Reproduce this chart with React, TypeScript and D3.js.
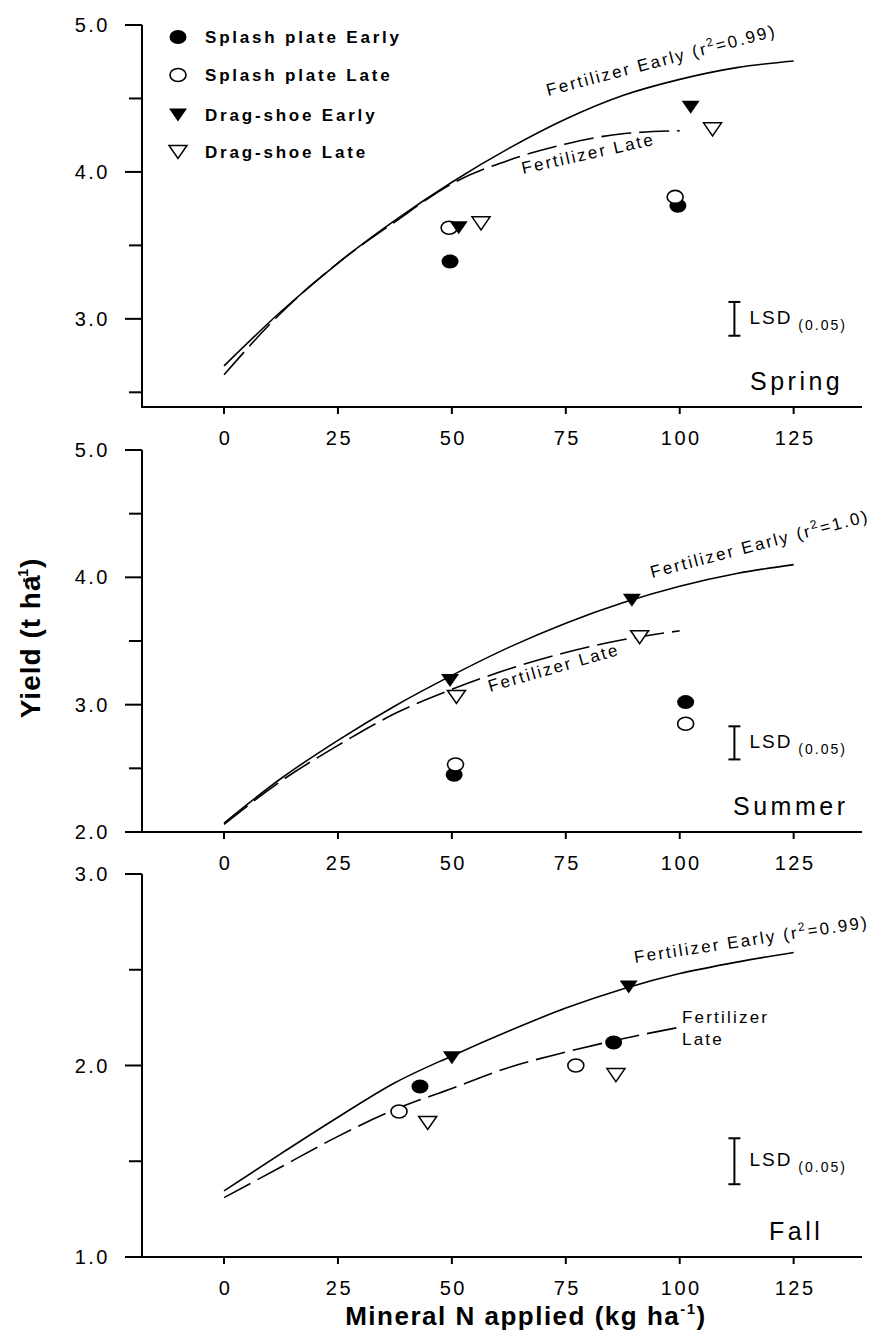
import React from "react";
import * as d3 from "d3";

const width = 880;
const height = 1331;

const seasons = ["Spring", "Summer", "Fall"];
const xTicks = [0, 25, 50, 75, 100, 125];
const yMajorTicks = [[3, 4, 5], [2, 3, 4, 5], [1, 2, 3]];
const yMinorTicks = [[2.5, 3.5, 4.5], [2.5, 3.5, 4.5], [1.5, 2.5]];
const yDomains = [[2.4, 5], [2, 5], [1, 3]];

// fitted fertilizer response curves
const earlyRates = [0, 12.5, 25, 37.5, 50, 62.5, 75, 87.5, 100, 112.5, 125];
const lateRates = [0, 12.5, 25, 37.5, 50, 62.5, 75, 87.5, 100];
const fertEarly = [
  [2.68, 3.05, 3.38, 3.67, 3.93, 4.16, 4.36, 4.52, 4.63, 4.71, 4.755],
  [2.07, 2.42, 2.72, 2.99, 3.23, 3.45, 3.64, 3.8, 3.93, 4.03, 4.1],
  [1.345, 1.54, 1.73, 1.91, 2.05, 2.18, 2.3, 2.4, 2.48, 2.54, 2.59],
];
const fertLate = [
  [2.62, 3.04, 3.38, 3.66, 3.92, 4.08, 4.19, 4.26, 4.28],
  [2.06, 2.4, 2.68, 2.93, 3.12, 3.28, 3.41, 3.51, 3.58],
  [1.31, 1.47, 1.63, 1.77, 1.88, 1.99, 2.07, 2.14, 2.2],
];

// manure treatments [N applied, yield]
const splashEarly = [
  [[49.6, 3.39], [99.6, 3.77]],
  [[50.5, 2.45], [101.3, 3.02]],
  [[43, 1.89], [85.5, 2.12]],
];
const splashLate = [
  [[49.4, 3.62], [99, 3.83]],
  [[50.8, 2.53], [101.3, 2.85]],
  [[38.4, 1.76], [77.2, 2.0]],
];
const dragEarly = [
  [[51.5, 3.62], [102.4, 4.44]],
  [[49.6, 3.19], [89.5, 3.82]],
  [[50, 2.04], [88.8, 2.41]],
];
const dragLate = [
  [[56.4, 3.65], [107.2, 4.29]],
  [[51, 3.06], [91.2, 3.53]],
  [[44.7, 1.7], [86, 1.95]],
];

const lsdCenter = [3.0, 2.7, 1.5];
const lsdHalf = [0.115, 0.13, 0.12];
const lsdRate = 112;

const r2Labels = ["0.99", "1.0", "0.99"];
const legendItems = ["Splash plate Early", "Splash plate Late", "Drag-shoe Early", "Drag-shoe Late"];

const font = "'Liberation Sans', Arial, Helvetica, sans-serif";

const panelRanges = [[407, 25], [832, 450], [1257, 874]];
// annotation layout per panel
const earlyLabelPos = [
  { x: 548, y: 96, a: -14.7 },
  { x: 652, y: 578, a: -14.6 },
  { x: 635, y: 963, a: -8.6 },
];
const lateLabelPos = [
  { x: 523, y: 174, a: -12.5 },
  { x: 490, y: 692, a: -16 },
  { x: 682, y: 1023, a: 0 },
];
const seasonLabelX = [750, 733, 769];

const xScale = d3.scaleLinear().domain([-18, 140]).range([142, 862]);

function Marker({ kind, x, y }: { kind: number; x: number; y: number }) {
  if (kind === 0) return <ellipse cx={x} cy={y} rx={8.5} ry={7} fill="#000" />;
  if (kind === 1) return <ellipse cx={x} cy={y} rx={8} ry={6.5} fill="#fff" stroke="#000" strokeWidth={1.6} />;
  const p = `M${x - 9},${y - 6.5}L${x + 9},${y - 6.5}L${x},${y + 6.5}Z`;
  if (kind === 2) return <path d={p} fill="#000" />;
  return <path d={p} fill="#fff" stroke="#000" strokeWidth={1.5} />;
}

function Panel({ i }: { i: number }) {
  const [y0, y1] = panelRanges[i];
  const yScale = d3.scaleLinear().domain(yDomains[i]).range([y0, y1]);
  const line = d3
    .line<[number, number]>()
    .x((d) => xScale(d[0]))
    .y((d) => yScale(d[1]))
    .curve(d3.curveMonotoneX);
  const early = earlyRates.map((r, k) => [r, fertEarly[i][k]] as [number, number]);
  const late = lateRates.map((r, k) => [r, fertLate[i][k]] as [number, number]);
  const series = [splashEarly, splashLate, dragEarly, dragLate];
  const axX = xScale.range();
  const lx = xScale(lsdRate);
  const lTop = yScale(lsdCenter[i] + lsdHalf[i]);
  const lBot = yScale(lsdCenter[i] - lsdHalf[i]);
  const ep = earlyLabelPos[i];
  const lp = lateLabelPos[i];
  const labStyle = { fontFamily: font, fontSize: 17, letterSpacing: 2.2 };
  const tickStyle = { fontFamily: font, fontSize: 20, letterSpacing: 2.5 };

  return (
    <g>
      {/* axes */}
      <line x1={axX[0]} x2={axX[0]} y1={y1} y2={y0 + 1} stroke="#000" strokeWidth={2} />
      <line x1={axX[0]} x2={axX[1]} y1={y0} y2={y0} stroke="#000" strokeWidth={2} />
      {yMajorTicks[i].map((t) => (
        <g key={"M" + t}>
          <line x1={axX[0] - 17} x2={axX[0]} y1={yScale(t)} y2={yScale(t)} stroke="#000" strokeWidth={2} />
          <text x={110} y={yScale(t) + 7} textAnchor="end" style={tickStyle}>
            {d3.format(".1f")(t)}
          </text>
        </g>
      ))}
      {yMinorTicks[i].map((t) => (
        <line key={"m" + t} x1={axX[0] - 13} x2={axX[0]} y1={yScale(t)} y2={yScale(t)} stroke="#000" strokeWidth={2} />
      ))}
      {xTicks.map((t) => (
        <g key={"x" + t}>
          <line x1={xScale(t)} x2={xScale(t)} y1={y0} y2={y0 + 7} stroke="#000" strokeWidth={2} />
          <text x={xScale(t) + 1.5} y={y0 + 38} textAnchor="middle" style={tickStyle}>
            {t}
          </text>
        </g>
      ))}

      {/* fitted curves */}
      <path d={line(early) || ""} fill="none" stroke="#000" strokeWidth={1.6} />
      <path d={line(late) || ""} fill="none" stroke="#000" strokeWidth={1.6} strokeDasharray="30 8" />

      {/* manure treatments */}
      {series.map((s, k) =>
        s[i].map((d, j) => <Marker key={k + "-" + j} kind={k} x={xScale(d[0])} y={yScale(d[1])} />)
      )}

      {/* curve labels */}
      <text transform={`translate(${ep.x},${ep.y}) rotate(${ep.a})`} style={labStyle}>
        Fertilizer Early (r
        <tspan dy={-7} fontSize={12}>2</tspan>
        <tspan dy={7}>={r2Labels[i]})</tspan>
      </text>
      {i < 2 ? (
        <text transform={`translate(${lp.x},${lp.y}) rotate(${lp.a})`} style={labStyle}>
          Fertilizer Late
        </text>
      ) : (
        <text x={lp.x} y={lp.y} style={labStyle}>
          Fertilizer
          <tspan x={lp.x} dy={22}>Late</tspan>
        </text>
      )}

      {/* LSD bar */}
      <line x1={lx} x2={lx} y1={lTop} y2={lBot} stroke="#000" strokeWidth={2} />
      <line x1={lx - 6} x2={lx + 6} y1={lTop} y2={lTop} stroke="#000" strokeWidth={2} />
      <line x1={lx - 6} x2={lx + 6} y1={lBot} y2={lBot} stroke="#000" strokeWidth={2} />
      <text x={lx + 15} y={(lTop + lBot) / 2 + 5} style={{ fontFamily: font, fontSize: 19, letterSpacing: 2 }}>
        LSD
        <tspan dx={6} dy={6} fontSize={14}>(0.05)</tspan>
      </text>

      <text x={seasonLabelX[i]} y={y0 - 17} style={{ fontFamily: font, fontSize: 25, letterSpacing: 3.5 }}>
        {seasons[i]}
      </text>
    </g>
  );
}

export default function App() {
  const legendY = [37, 75, 115, 152];
  return (
    <svg
      width={width}
      height={height}
      viewBox={`0 0 ${width} ${height}`}
      style={{ position: "absolute", left: 0, top: 0, background: "#fff" }}
    >
      <rect width={width} height={height} fill="#fff" />
      {seasons.map((s, i) => (
        <Panel key={s} i={i} />
      ))}

      {/* legend */}
      {legendItems.map((name, k) => (
        <g key={name}>
          <Marker kind={k} x={178} y={legendY[k]} />
          <text
            x={205}
            y={legendY[k] + 6}
            style={{ fontFamily: font, fontSize: 17, fontWeight: "bold", letterSpacing: 2.8 }}
          >
            {name}
          </text>
        </g>
      ))}

      <text
        transform="translate(40,638) rotate(-90)"
        textAnchor="middle"
        style={{ fontFamily: font, fontSize: 28, fontWeight: "bold", letterSpacing: 1 }}
      >
        Yield (t ha
        <tspan dx={-8} dy={-12} fontSize={14}>-1</tspan>
        <tspan dy={12}>)</tspan>
      </text>
      <text
        x={526}
        y={1325}
        textAnchor="middle"
        style={{ fontFamily: font, fontSize: 26, fontWeight: "bold", letterSpacing: 1.5 }}
      >
        Mineral N applied (kg ha
        <tspan dy={-11} fontSize={15}>-1</tspan>
        <tspan dy={11}>)</tspan>
      </text>
    </svg>
  );
}
